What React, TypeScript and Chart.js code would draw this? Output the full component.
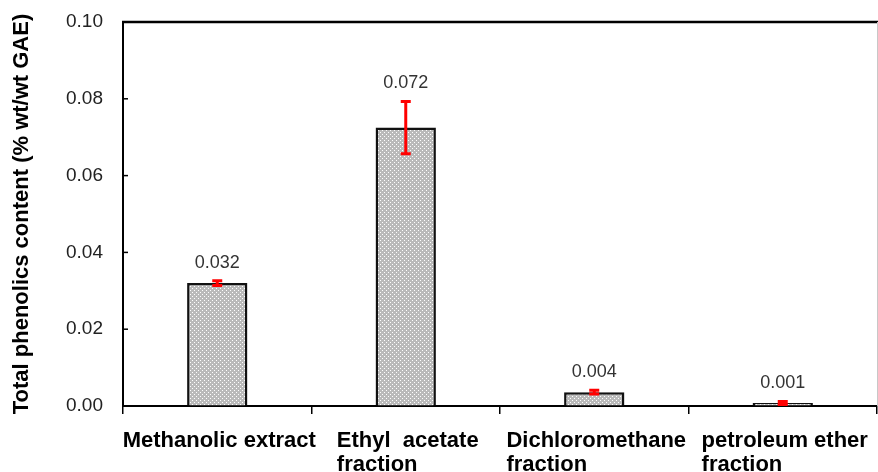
import { useEffect, useRef } from 'react';
import { Chart, registerables } from 'chart.js';

Chart.register(...registerables);

const categories: string[][] = [
  ['Methanolic extract'],
  ['Ethyl  acetate', 'fraction'],
  ['Dichloromethane', 'fraction'],
  ['petroleum ether', 'fraction'],
];
const values = [0.032, 0.0725, 0.0036, 0.0008];
const errors = [0.0006, 0.0068, 0.0005, 0.0004];
const yTicks = [0, 0.02, 0.04, 0.06, 0.08, 0.1];
const yTitle = 'Total phenolics content (% wt/wt GAE)';

const FONT = '"Liberation Sans", Arial, sans-serif';

function makePattern(): CanvasPattern | string {
  const c = document.createElement('canvas');
  c.width = 4;
  c.height = 4;
  const g = c.getContext('2d');
  if (!g) return '#c8c8c8';
  g.fillStyle = '#bababa';
  g.fillRect(0, 0, 4, 4);
  g.fillStyle = '#ffffff';
  g.fillRect(0, 0, 1, 1);
  g.fillRect(2, 2, 1, 1);
  const p = g.createPattern(c, 'repeat');
  return p || '#c8c8c8';
}

const decorPlugin = {
  id: 'decor',
  afterDraw(chart: any) {
    const { ctx, chartArea } = chart;
    const xs = chart.scales.x;
    const ys = chart.scales.y;
    ctx.save();
    // top border
    ctx.strokeStyle = '#000';
    ctx.lineWidth = 2.5;
    ctx.beginPath();
    ctx.moveTo(chartArea.left - 1, chartArea.top);
    ctx.lineTo(chartArea.right + 1, chartArea.top);
    ctx.stroke();
    // faint right edge
    ctx.strokeStyle = '#c8c8c8';
    ctx.lineWidth = 1;
    ctx.beginPath();
    ctx.moveTo(chartArea.right + 0.5, chartArea.top);
    ctx.lineTo(chartArea.right + 0.5, chartArea.bottom);
    ctx.stroke();
    // inward y ticks
    ctx.strokeStyle = '#000';
    ctx.lineWidth = 1.5;
    yTicks.forEach((v) => {
      const py = ys.getPixelForValue(v);
      ctx.beginPath();
      ctx.moveTo(chartArea.left, py);
      ctx.lineTo(chartArea.left + 5, py);
      ctx.stroke();
    });
    // error bars and value labels
    values.forEach((v, i) => {
      const cx = xs.getPixelForValue(i);
      const top = ys.getPixelForValue(v + errors[i]);
      const bot = ys.getPixelForValue(v - errors[i]);
      ctx.strokeStyle = '#ff0000';
      ctx.lineWidth = 3;
      ctx.beginPath();
      ctx.moveTo(cx, top);
      ctx.lineTo(cx, bot);
      ctx.stroke();
      ctx.beginPath();
      ctx.moveTo(cx - 5, top);
      ctx.lineTo(cx + 5, top);
      ctx.moveTo(cx - 5, bot);
      ctx.lineTo(cx + 5, bot);
      ctx.stroke();
      ctx.fillStyle = '#333';
      ctx.font = `18px ${FONT}`;
      ctx.textAlign = 'center';
      ctx.textBaseline = 'bottom';
      ctx.fillText(v.toFixed(3), cx, top - 9);
    });
    // x category labels (left aligned block, centered on category)
    ctx.fillStyle = '#000';
    ctx.font = `bold 22px ${FONT}`;
    ctx.textAlign = 'left';
    ctx.textBaseline = 'alphabetic';
    categories.forEach((lines, i) => {
      const cx = xs.getPixelForValue(i);
      const w = Math.max(...lines.map((l) => ctx.measureText(l).width));
      const left = cx - w / 2 + 2;
      lines.forEach((l, j) => {
        ctx.fillText(l, left, chartArea.bottom + 41 + j * 24);
      });
    });
    ctx.restore();
  },
};

export default function App() {
  const ref = useRef<HTMLCanvasElement | null>(null);

  useEffect(() => {
    if (!ref.current) return;
    const chart = new Chart(ref.current, {
      type: 'bar',
      data: {
        labels: categories,
        datasets: [
          {
            data: values,
            backgroundColor: makePattern() as any,
            borderColor: '#111',
            borderWidth: 2.5,
            barPercentage: 0.32,
            categoryPercentage: 1,
          },
        ],
      },
      options: {
        animation: false,
        responsive: false,
        layout: { padding: { top: 22, right: 1, left: 0, bottom: 0 } },
        plugins: { legend: { display: false }, tooltip: { enabled: false } },
        scales: {
          x: {
            type: 'category',
            offset: true,
            grid: {
              display: true,
              drawOnChartArea: false,
              offset: true,
              tickLength: 8,
              color: '#000',
              lineWidth: 1.5,
            },
            border: { display: true, color: '#000', width: 2 },
            ticks: { display: false },
            afterFit: (s: any) => {
              s.height = 66;
              s.paddingLeft = 0;
              s.paddingRight = 0;
            },
          },
          y: {
            min: 0,
            max: 0.1,
            afterBuildTicks: (s: any) => {
              s.ticks = yTicks.map((v) => ({ value: v }));
            },
            ticks: {
              callback: (v: any) => Number(v).toFixed(2),
              padding: 20,
              font: { family: FONT, size: 19 },
              color: '#222',
            },
            grid: { drawOnChartArea: false, drawTicks: false },
            border: { display: true, color: '#000', width: 2 },
            title: {
              display: true,
              text: yTitle,
              font: { family: FONT, size: 22, weight: 'bold' },
              color: '#000',
              padding: { top: 9, bottom: 0 },
            },
            afterFit: (s: any) => {
              s.width = 123;
              s.paddingTop = 0;
              s.paddingBottom = 0;
            },
          },
        },
      },
      plugins: [decorPlugin],
    });
    return () => chart.destroy();
  }, []);

  return (
    <div style={{ position: 'fixed', left: 0, top: 0, width: 878, height: 472, background: '#fff' }}>
      <canvas ref={ref} width={878} height={472} style={{ display: 'block' }} />
    </div>
  );
}
